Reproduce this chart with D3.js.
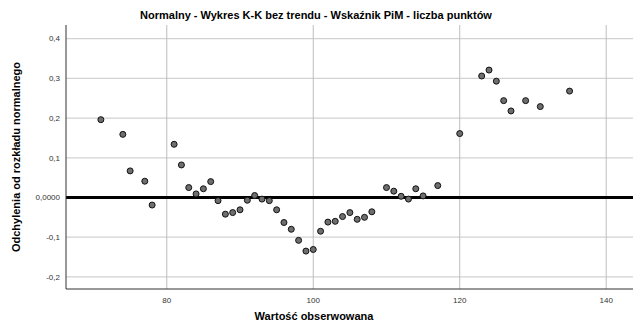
<!DOCTYPE html>
<html>
<head>
<meta charset="utf-8">
<script src="https://cdn.jsdelivr.net/npm/d3@7"></script>
<style>
  html, body { margin: 0; padding: 0; background: #fff; }
  svg { display: block; font-family: Arial, "Liberation Sans", sans-serif; }
</style>
</head>
<body>
<svg id="chart" width="633" height="323"></svg>
<script>
// Observed values (x) and their deviation from the normal distribution (y)
const observed = [71, 74, 75, 77, 78, 81, 82, 83, 84, 85, 86, 87, 88, 89, 90, 91, 92, 93, 94, 95,
  96, 97, 98, 99, 100, 101, 102, 103, 104, 105, 106, 107, 108, 110, 111, 112, 113, 114, 115, 117,
  120, 123, 124, 125, 126, 127, 129, 131, 135];
const deviation = [0.196, 0.159, 0.067, 0.041, -0.019, 0.134, 0.082, 0.025, 0.009, 0.022, 0.040, -0.008,
  -0.042, -0.038, -0.031, -0.007, 0.005, -0.004, -0.008, -0.031, -0.063, -0.080, -0.108, -0.135,
  -0.131, -0.085, -0.062, -0.060, -0.048, -0.038, -0.055, -0.050, -0.036, 0.025, 0.016, 0.003,
  -0.004, 0.022, 0.004, 0.030, 0.161, 0.306, 0.321, 0.293, 0.244, 0.218, 0.244, 0.229, 0.268];

const xTicks = [80, 100, 120, 140];
const yTicks = [0.4, 0.3, 0.2, 0.1, 0, -0.1, -0.2];
const yTickLabels = ["0,4", "0,3", "0,2", "0,1", "0,0000", "-0,1", "-0,2"];

const title = "Normalny - Wykres K-K bez trendu - Wskaźnik PiM - liczba punktów";
const xTitle = "Wartość obserwowana";
const yTitle = "Odchylenia od rozkładu normalnego";

const svg = d3.select("#chart");
const plot = { left: 66, right: 633, top: 25, bottom: 289 };

const x = d3.scaleLinear().domain([66.24, 143.66]).range([plot.left, plot.right]);
const y = d3.scaleLinear().domain([-0.2305, 0.4345]).range([plot.bottom, plot.top]);

// Horizontal grid
svg.append("g").selectAll("line").data(yTicks.filter(d => d !== 0)).join("line")
  .attr("x1", plot.left).attr("x2", plot.right)
  .attr("y1", d => y(d)).attr("y2", d => y(d))
  .attr("stroke", "#d2d2d2").attr("stroke-width", 1.2);

// Vertical grid
svg.append("g").selectAll("line").data(xTicks).join("line")
  .attr("x1", d => x(d)).attr("x2", d => x(d))
  .attr("y1", plot.top).attr("y2", plot.bottom)
  .attr("stroke", "#bdbdbd").attr("stroke-width", 1);

// Zero reference line
svg.append("line")
  .attr("x1", plot.left).attr("x2", plot.right)
  .attr("y1", y(0)).attr("y2", y(0))
  .attr("stroke", "#000").attr("stroke-width", 3);

// Axis lines
svg.append("line").attr("x1", plot.left).attr("x2", plot.left).attr("y1", plot.top).attr("y2", plot.bottom)
  .attr("stroke", "#333").attr("stroke-width", 1);
svg.append("line").attr("x1", plot.left).attr("x2", plot.right).attr("y1", plot.bottom).attr("y2", plot.bottom)
  .attr("stroke", "#333").attr("stroke-width", 1);

// Y tick labels
svg.append("g").selectAll("text").data(yTicks).join("text")
  .attr("x", plot.left - 6).attr("y", d => y(d)).attr("dy", "0.35em")
  .attr("text-anchor", "end").attr("font-size", 8).attr("fill", "#333")
  .text((d, i) => yTickLabels[i]);

// X tick labels
svg.append("g").selectAll("text").data(xTicks).join("text")
  .attr("x", d => x(d)).attr("y", plot.bottom + 14)
  .attr("text-anchor", "middle").attr("font-size", 8).attr("fill", "#333")
  .text(d => d);

// Points
const pts = observed.map((v, i) => ({ v, d: deviation[i] }));
svg.append("g").selectAll("circle").data(pts).join("circle")
  .attr("cx", p => x(p.v)).attr("cy", p => y(p.d)).attr("r", 3)
  .attr("fill", "#6e6e6e").attr("stroke", "#111").attr("stroke-width", 1);

// Titles
svg.append("text").attr("x", 316).attr("y", 19).attr("text-anchor", "middle")
  .attr("font-size", 11).attr("font-weight", "bold").text(title);
svg.append("text").attr("x", 314).attr("y", 320).attr("text-anchor", "middle")
  .attr("font-size", 11).attr("font-weight", "bold").text(xTitle);
svg.append("text").attr("transform", "translate(20,157) rotate(-90)").attr("text-anchor", "middle")
  .attr("font-size", 11).attr("font-weight", "bold").text(yTitle);
</script>
</body>
</html>
